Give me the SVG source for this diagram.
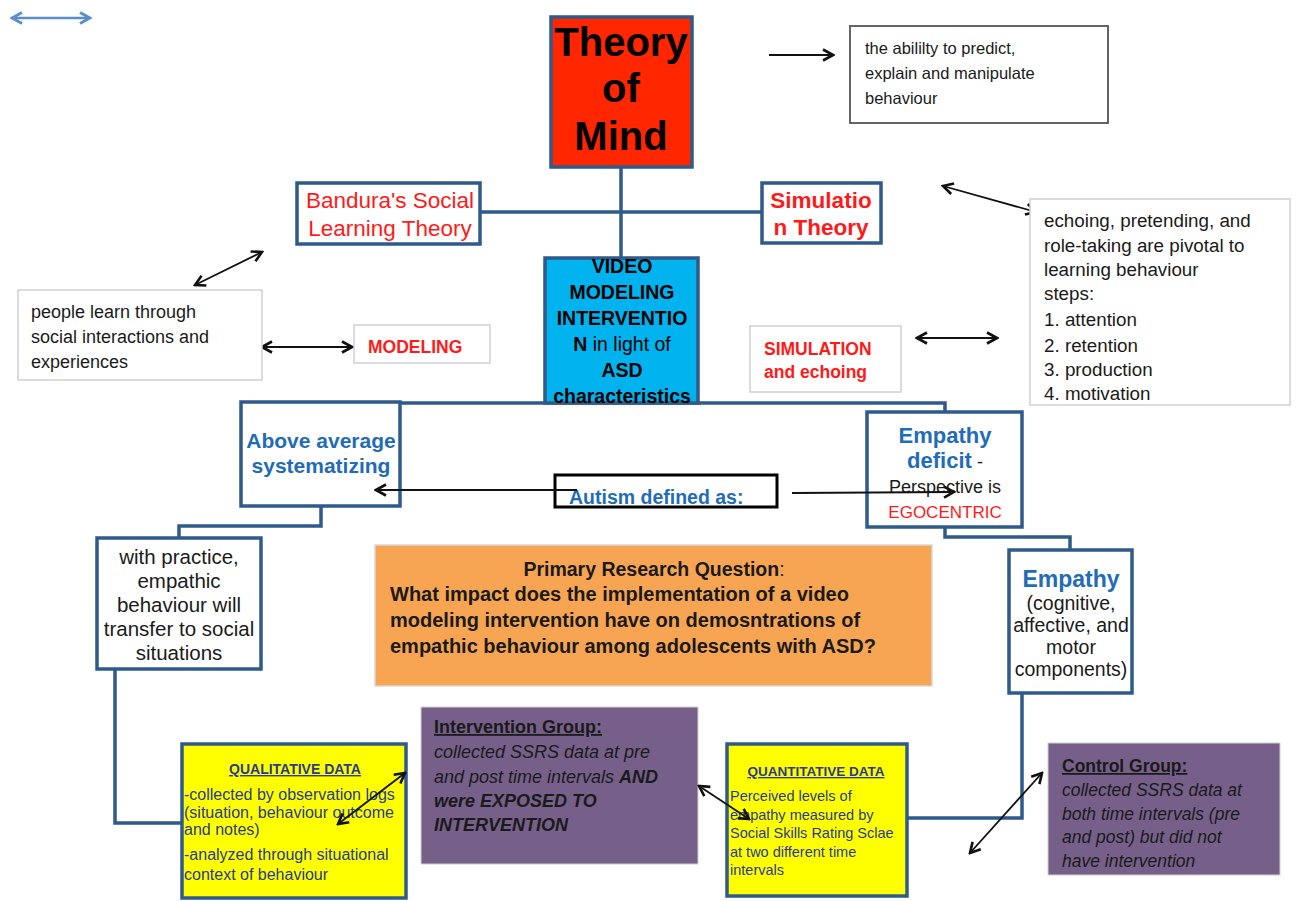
<svg xmlns="http://www.w3.org/2000/svg" width="1296" height="901" viewBox="0 0 1296 901">
<style>
text{font-family:"Liberation Sans",Arial,sans-serif;}
.nb{fill:#fff;stroke:#2f5b8a;stroke-width:3.5;}
.gb{fill:#fff;stroke:#d0d0d0;stroke-width:1.5;}
.conn{fill:none;stroke:#2f5b8a;stroke-width:3.5;}
.arr{fill:none;stroke:#111;stroke-width:1.8;}
.b{font-weight:bold;}
.red{fill:#ff1a1a;}
.blue{fill:#1f6cb8;}
.navy{fill:#2a3b8f;}
.dk{fill:#1a1a1a;}
</style>
<defs>
<marker id="ah" viewBox="0 0 14 14" refX="12" refY="7" markerWidth="14" markerHeight="14" markerUnits="userSpaceOnUse" orient="auto-start-reverse">
<path d="M2,1.5 L12,7 L2,12.5" fill="none" stroke="#111" stroke-width="2.6"/>
</marker>
<marker id="ahb" viewBox="0 0 14 14" refX="12" refY="7" markerWidth="14" markerHeight="14" markerUnits="userSpaceOnUse" orient="auto-start-reverse">
<path d="M2,1.5 L12,7 L2,12.5" fill="none" stroke="#5b8fcc" stroke-width="3"/>
</marker>
</defs>

<g id="connectors">
<path class="conn" d="M621,167 V258"/>
<path class="conn" d="M480,212 H762"/>
<path class="conn" d="M400,403 H945 V412"/>
<path class="conn" d="M321,506 V526 H179 V538"/>
<path class="conn" d="M945,527 V537 H1070 V550"/>
<path class="conn" d="M115,669 V823 H182"/>
<path class="conn" d="M1022,693 V818 H907"/>
<line x1="12" y1="18" x2="90" y2="18" fill="none" stroke="#5b8fcc" stroke-width="2.4" marker-start="url(#ahb)" marker-end="url(#ahb)"/>
<line class="arr" x1="769" y1="55" x2="833" y2="55" marker-end="url(#ah)"/>
<line class="arr" x1="943" y1="186" x2="1036" y2="212" marker-start="url(#ah)" marker-end="url(#ah)"/>
<line class="arr" x1="195" y1="285" x2="262" y2="252" marker-start="url(#ah)" marker-end="url(#ah)"/>
<line class="arr" x1="262" y1="347" x2="352" y2="347" marker-start="url(#ah)" marker-end="url(#ah)"/>
<line class="arr" x1="917" y1="338" x2="997" y2="338" marker-start="url(#ah)" marker-end="url(#ah)"/>
</g>

<g id="theory-of-mind">
<rect x="551" y="17" width="141" height="150" fill="#ff2600" stroke="#2f5b8a" stroke-width="3.5"/>
<text x="621" y="56" font-size="40" class="b" text-anchor="middle" fill="#000">Theory</text>
<text x="621" y="102" font-size="40" class="b" text-anchor="middle" fill="#000">of</text>
<text x="621" y="150" font-size="40" class="b" text-anchor="middle" fill="#000">Mind</text>
</g>

<g id="ability-box">
<rect x="850" y="26" width="258" height="97" fill="#fff" stroke="#555" stroke-width="1.8"/>
<text font-size="16.5" class="dk"><tspan x="865" y="54">the abililty to predict,</tspan><tspan x="865" y="79">explain and manipulate</tspan><tspan x="865" y="104">behaviour</tspan></text>
</g>

<g id="bandura">
<rect class="nb" x="297" y="183" width="183" height="61"/>
<text font-size="22.5" class="red" text-anchor="middle"><tspan x="390" y="208">Bandura's Social</tspan><tspan x="390" y="236">Learning Theory</tspan></text>
</g>

<g id="simulation-theory">
<rect class="nb" x="762" y="183" width="119" height="60"/>
<text font-size="22.5" class="b red" text-anchor="middle"><tspan x="821" y="208">Simulatio</tspan><tspan x="821" y="235">n Theory</tspan></text>
</g>

<g id="echoing-box">
<rect class="gb" x="1030" y="199" width="260" height="206"/>
<text font-size="18.8" class="dk"><tspan x="1044" y="227">echoing, pretending, and</tspan><tspan x="1044" y="252">role-taking are pivotal to</tspan><tspan x="1044" y="276">learning behaviour</tspan><tspan x="1044" y="300">steps:</tspan><tspan x="1044" y="326">1. attention</tspan><tspan x="1044" y="352">2. retention</tspan><tspan x="1044" y="376">3. production</tspan><tspan x="1044" y="400">4. motivation</tspan></text>
</g>

<g id="people-box">
<rect class="gb" x="18" y="290" width="244" height="90"/>
<text font-size="18" class="dk"><tspan x="31" y="318">people learn through</tspan><tspan x="31" y="343">social interactions and</tspan><tspan x="31" y="368">experiences</tspan></text>
</g>

<g id="modeling">
<rect class="gb" x="354" y="325" width="136" height="38"/>
<text x="368" y="353" font-size="17.5" class="b red">MODELING</text>
</g>

<g id="video-modeling">
<rect x="545" y="258" width="153" height="145" fill="#00b3ee" stroke="#2f5b8a" stroke-width="3.5"/>
<text font-size="19.5" text-anchor="middle" fill="#000"><tspan x="622" y="273" class="b">VIDEO</tspan><tspan x="622" y="299" class="b">MODELING</tspan><tspan x="622" y="325" class="b">INTERVENTIO</tspan><tspan x="622" y="351"><tspan class="b">N</tspan> in light of</tspan><tspan x="622" y="377" class="b">ASD</tspan><tspan x="622" y="403" class="b">characteristics</tspan></text>
</g>

<g id="simulation-echoing">
<rect class="gb" x="750" y="326" width="151" height="66"/>
<text font-size="17.5" class="b red"><tspan x="764" y="355">SIMULATION</tspan><tspan x="764" y="378">and echoing</tspan></text>
</g>

<g id="above-average">
<rect class="nb" x="241" y="402" width="159" height="104"/>
<text font-size="21" class="b blue" text-anchor="middle"><tspan x="321" y="448">Above average</tspan><tspan x="321" y="473">systematizing</tspan></text>
</g>

<g id="empathy-deficit">
<rect class="nb" x="867" y="412" width="155" height="115"/>
<text text-anchor="middle"><tspan x="945" y="443" font-size="22" class="b blue">Empathy</tspan><tspan x="945" y="468"><tspan font-size="22" class="b blue">deficit</tspan><tspan font-size="18" class="dk"> -</tspan></tspan><tspan x="945" y="493" font-size="18" class="dk">Perspective is</tspan><tspan x="945" y="518" font-size="17" class="red">EGOCENTRIC</tspan></text>
</g>

<g id="autism">
<rect x="555" y="475" width="222" height="32" fill="none" stroke="#000" stroke-width="3"/>
<text x="569" y="504" font-size="19.5" class="b blue">Autism defined as:</text>
</g>

<g id="autism-arrows">
<line class="arr" x1="577" y1="490" x2="376" y2="490" marker-end="url(#ah)"/>
<line class="arr" x1="792" y1="493" x2="954" y2="492" marker-end="url(#ah)"/>
</g>

<g id="with-practice">
<rect class="nb" x="97" y="538" width="164" height="131"/>
<text font-size="20.5" class="dk" text-anchor="middle"><tspan x="179" y="564">with practice,</tspan><tspan x="179" y="588">empathic</tspan><tspan x="179" y="612">behaviour will</tspan><tspan x="179" y="636">transfer to social</tspan><tspan x="179" y="660">situations</tspan></text>
</g>

<g id="research-question">
<rect x="375" y="545" width="557" height="141" fill="#f7a552" stroke="#d8d8d8" stroke-width="1.5"/>
<text x="654" y="576" font-size="19.5" text-anchor="middle" class="dk"><tspan class="b">Primary Research Question</tspan>:</text>
<text font-size="20" class="b dk"><tspan x="390" y="601">What impact does the implementation of a video</tspan><tspan x="390" y="627">modeling intervention have on demosntrations of</tspan><tspan x="390" y="653">empathic behaviour among adolescents with ASD?</tspan></text>
</g>

<g id="empathy">
<rect class="nb" x="1009" y="550" width="123" height="143"/>
<text text-anchor="middle"><tspan x="1071" y="587" font-size="23" class="b blue">Empathy</tspan><tspan x="1071" y="610" font-size="19.5" class="dk">(cognitive,</tspan><tspan x="1071" y="632" font-size="19.5" class="dk">affective, and</tspan><tspan x="1071" y="654" font-size="19.5" class="dk">motor</tspan><tspan x="1071" y="676" font-size="19.5" class="dk">components)</tspan></text>
</g>

<g id="intervention-group">
<rect x="421" y="707" width="277" height="157" fill="#76608a" stroke="#cfcfcf" stroke-width="1"/>
<text x="434" y="733" font-size="18" class="b dk" text-decoration="underline">Intervention Group:</text>
<text font-size="18" font-style="italic" class="dk"><tspan x="434" y="758">collected SSRS data at pre</tspan><tspan x="434" y="783">and post time intervals <tspan class="b">AND</tspan></tspan><tspan x="434" y="807" class="b">were EXPOSED TO</tspan><tspan x="434" y="831" class="b">INTERVENTION</tspan></text>
</g>

<g id="qualitative">
<rect x="182" y="744" width="224" height="154" fill="#ffff00" stroke="#2f5b8a" stroke-width="3.5"/>
<text x="295" y="774" font-size="14" class="b navy" text-anchor="middle" text-decoration="underline">QUALITATIVE DATA</text>
<text font-size="16" class="navy"><tspan x="184" y="800">-collected by observation logs</tspan><tspan x="184" y="818">(situation, behaviour outcome</tspan><tspan x="184" y="835">and notes)</tspan><tspan x="184" y="860">-analyzed through situational</tspan><tspan x="184" y="880">context of behaviour</tspan></text>
</g>

<g id="quantitative">
<rect x="727" y="744" width="180" height="152" fill="#ffff00" stroke="#2f5b8a" stroke-width="3.5"/>
<text x="816" y="776" font-size="13.5" class="b navy" text-anchor="middle" text-decoration="underline">QUANTITATIVE DATA</text>
<text font-size="14.5" class="navy"><tspan x="730" y="801">Perceived levels of</tspan><tspan x="730" y="820">empathy measured by</tspan><tspan x="730" y="838">Social Skills Rating Sclae</tspan><tspan x="730" y="857">at two different time</tspan><tspan x="730" y="875">intervals</tspan></text>
</g>

<g id="control-group">
<rect x="1048" y="743" width="232" height="132" fill="#76608a" stroke="#cfcfcf" stroke-width="1"/>
<text x="1062" y="772" font-size="17.5" class="b dk" text-decoration="underline">Control Group:</text>
<text font-size="17.5" font-style="italic" class="dk"><tspan x="1062" y="796">collected SSRS data at</tspan><tspan x="1062" y="820">both time intervals (pre</tspan><tspan x="1062" y="843">and post) but did not</tspan><tspan x="1062" y="867">have intervention</tspan></text>
</g>

<g id="data-arrows">
<line class="arr" x1="405" y1="773" x2="338" y2="824" marker-start="url(#ah)" marker-end="url(#ah)"/>
<line class="arr" x1="699" y1="786" x2="749" y2="819" marker-start="url(#ah)" marker-end="url(#ah)"/>
<line class="arr" x1="970" y1="853" x2="1042" y2="773" marker-start="url(#ah)" marker-end="url(#ah)"/>
</g>
</svg>
